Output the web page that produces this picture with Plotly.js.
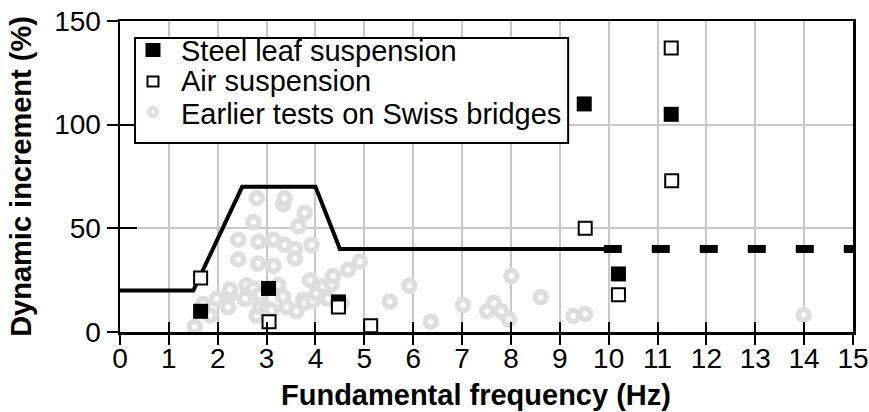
<!DOCTYPE html>
<html>
<head>
<meta charset="utf-8">
<script src="https://cdn.plot.ly/plotly-3.0.1.min.js"></script>
<style>html,body{margin:0;padding:0;background:#fff;}#chart{width:869px;height:412px;}</style>
</head>
<body>
<div id="chart"></div>
<script>
// Series names (legend order)
const seriesNames = ['Steel leaf suspension', 'Air suspension', 'Earlier tests on Swiss bridges'];
// Steel leaf suspension (filled squares)
const steelX = [1.65, 3.04, 4.47, 9.5, 10.2, 11.28];
const steelY = [10, 21, 14.5, 110, 28, 105];
// Air suspension (open squares)
const airX = [1.65, 3.05, 4.47, 5.13, 9.52, 10.2, 11.29, 11.28];
const airY = [26, 5, 12, 3, 50, 18, 73, 137];
// Earlier tests on Swiss bridges (grey rings)
const swissX = [1.53, 1.70, 1.84, 1.98, 2.21, 2.25, 2.25, 2.42, 2.42, 2.56, 2.59, 2.73, 2.73, 2.80, 2.80,
  2.83, 2.83, 2.86, 2.86, 3.00, 3.10, 3.14, 3.14, 3.24, 3.41, 3.34, 3.34, 3.37, 3.37, 3.58, 3.58, 3.61,
  3.65, 3.75, 3.78, 3.78, 3.89, 3.92, 3.95, 4.02, 4.16, 4.19, 4.26, 4.33, 4.36, 4.53, 4.67, 4.91,
  5.52, 5.92, 6.36, 7.02, 7.51, 7.65, 7.80, 7.96, 8.01, 8.61, 9.28, 9.52, 13.99];
const swissY = [2.5, 13.5, 8, 16, 12, 18, 20.5, 44.5, 35, 16, 22.5, 21, 53, 64.5, 8,
  43.5, 33, 12, 18, 11.5, 10.5, 44.5, 32, 22.5, 12, 17, 61.5, 64.5, 42, 40, 35.5, 10,
  51, 15.5, 57.5, 14, 25, 42, 15, 18.5, 22, 16.5, 16, 23, 27, 14, 30, 34,
  14.7, 22.3, 5, 13, 10, 14, 10, 6, 27, 16.8, 7.7, 8.7, 8.2];
// Design curve
const curveX = [0, 1.5, 2.5, 4, 4.5, 10];
const curveY = [20, 20, 70, 70, 40, 40];
const dashX = [9.9, 15.1];
const dashY = [40, 40];
// Axis ticks and titles
const xTicks = [0,1,2,3,4,5,6,7,8,9,10,11,12,13,14,15];
const yTicks = [0, 50, 100, 150];
const xTitle = 'Fundamental frequency (Hz)';
const yTitle = 'Dynamic increment (%)';

const FONT = '"Liberation Sans", Arial, sans-serif';
const GREY = '#dedede';

const traces = [
  {x: swissX, y: swissY, type: 'scatter', mode: 'markers', name: seriesNames[2], showlegend: false,
   marker: {symbol: 'circle', size: 11, color: '#ffffff', line: {color: GREY, width: 5.5}}},
  {x: curveX, y: curveY, type: 'scatter', mode: 'lines', showlegend: false,
   line: {color: '#000', width: 4}},
  {x: dashX, y: dashY, type: 'scatter', mode: 'lines', showlegend: false,
   line: {color: '#000', width: 8, dash: '18px,30px'}},
  {x: steelX, y: steelY, type: 'scatter', mode: 'markers', name: seriesNames[0], showlegend: false,
   marker: {symbol: 'square', size: 15, color: '#000', line: {width: 0}}},
  {x: airX, y: airY, type: 'scatter', mode: 'markers', name: seriesNames[1], showlegend: false,
   marker: {symbol: 'square', size: 13, color: '#fff', line: {color: '#000', width: 2}}},
  // invisible helper on overlay axes (for crossing tick marks)
  {x: [0], y: [0], xaxis: 'x2', yaxis: 'y2', type: 'scatter', mode: 'markers', showlegend: false,
   hoverinfo: 'skip', marker: {opacity: 0}}
];

// Custom legend (box, symbols, texts) placed in paper coordinates
const legRowsY = [0.9035, 0.8071, 0.701];
const legSymY = [0.9068, 0.8055, 0.7074];
const legSymX = 0.045;
const shapes = [
  {type: 'rect', xref: 'paper', yref: 'paper', x0: 0.0205, x1: 0.6114, y0: 0.6077, y1: 0.9453,
   fillcolor: '#fff', line: {color: '#000', width: 2}, layer: 'above'},
  {type: 'rect', xref: 'paper', yref: 'paper', xsizemode: 'pixel', ysizemode: 'pixel',
   xanchor: legSymX, yanchor: legSymY[0], x0: -7.5, x1: 7.5, y0: -7, y1: 7,
   fillcolor: '#000', line: {width: 0}, layer: 'above'},
  {type: 'rect', xref: 'paper', yref: 'paper', xsizemode: 'pixel', ysizemode: 'pixel',
   xanchor: legSymX, yanchor: legSymY[1], x0: -5.5, x1: 5.5, y0: -5, y1: 5,
   fillcolor: '#fff', line: {color: '#000', width: 2}, layer: 'above'},
  {type: 'circle', xref: 'paper', yref: 'paper', xsizemode: 'pixel', ysizemode: 'pixel',
   xanchor: legSymX, yanchor: legSymY[2], x0: -4, x1: 4, y0: -4, y1: 4,
   fillcolor: '#fff', line: {color: GREY, width: 4}, layer: 'above'}
];
const annotations = seriesNames.map((nm, i) => ({
  text: nm, xref: 'paper', yref: 'paper', x: 0.0819, y: legRowsY[i],
  xanchor: 'left', yanchor: 'middle', showarrow: false, borderpad: 0,
  font: {family: FONT, size: 29, color: '#000'}
}));
annotations.push({
  text: '<b>' + xTitle + '</b>', xref: 'paper', yref: 'paper', x: 0.4859, y: -0.201,
  xanchor: 'center', yanchor: 'middle', showarrow: false, borderpad: 0,
  font: {family: FONT, size: 29, color: '#000'}
});

const layout = {
  width: 869, height: 412,
  margin: {l: 120, r: 16, t: 21, b: 80},
  paper_bgcolor: '#fff', plot_bgcolor: '#fff',
  font: {family: FONT, color: '#000', size: 28},
  showlegend: false,
  shapes: shapes,
  annotations: annotations,
  xaxis: {range: [0, 15], tickvals: xTicks, ticktext: xTicks.map(String),
    showgrid: true, gridcolor: '#c8c8c8', gridwidth: 2, zeroline: false,
    showline: true, linecolor: '#000', linewidth: 2.5, mirror: true,
    ticks: 'inside', ticklen: 10, tickwidth: 2, tickcolor: '#000',
    tickfont: {family: FONT, size: 28, color: '#000'}},
  yaxis: {range: [0, 150], tickvals: yTicks, ticktext: yTicks.map(String),
    showgrid: true, gridcolor: '#c8c8c8', gridwidth: 2, zeroline: false,
    showline: true, linecolor: '#000', linewidth: 2.5, mirror: true,
    ticks: 'outside', ticklen: 11, tickwidth: 2, tickcolor: '#000',
    tickfont: {family: FONT, size: 28, color: '#000'},
    title: {text: yTitle, standoff: 14,
      font: {family: FONT, size: 29, color: '#000', weight: 'bold'}}},
  xaxis2: {range: [0, 15], tickvals: xTicks, overlaying: 'x', anchor: 'y2',
    showticklabels: false, showgrid: false, zeroline: false, showline: false,
    ticks: 'outside', ticklen: 12, tickwidth: 2, tickcolor: '#000'},
  yaxis2: {range: [0, 150], tickvals: yTicks, overlaying: 'y', anchor: 'x2',
    showticklabels: false, showgrid: false, zeroline: false, showline: false,
    ticks: 'inside', ticklen: 17, tickwidth: 2, tickcolor: '#000'}
};

Plotly.newPlot('chart', traces, layout, {displayModeBar: false, staticPlot: true});
</script>
</body>
</html>
